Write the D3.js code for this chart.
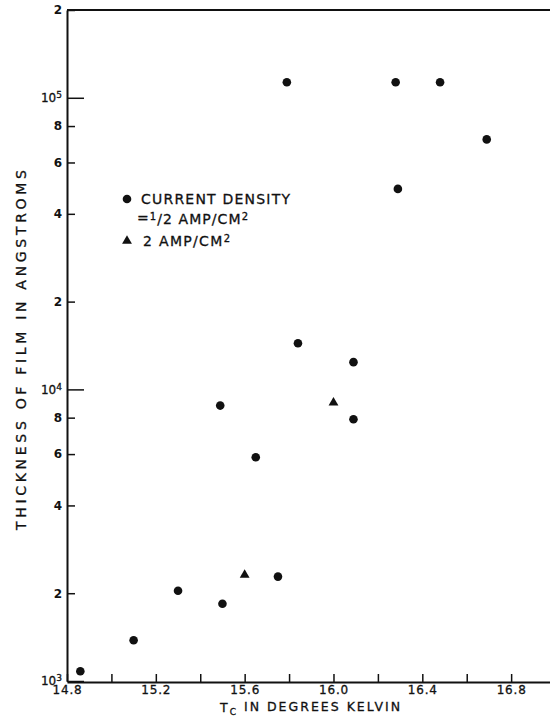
<!DOCTYPE html>
<html>
<head>
<meta charset="utf-8">
<script src="https://cdn.jsdelivr.net/npm/d3@7"></script>
<style>
  body { margin: 0; background: #fff; }
  svg text { font-family: 'DejaVu Sans', sans-serif; fill: #111; }
  .ink { stroke: #111; stroke-width: 0.3px; }
</style>
</head>
<body>
<div id="chart"></div>
<script>
// transition temperature (K) vs film thickness (angstroms)
var halfAmpTc = [14.86, 15.10, 15.30, 15.50, 15.75, 15.65, 15.49, 15.84, 16.09, 16.09, 15.79, 16.28, 16.48, 16.69, 16.29];
var halfAmpThickness = [1080, 1380, 2040, 1840, 2280, 5850, 8800, 14400, 12400, 7900, 113000, 113000, 113000, 72000, 48700];

var twoAmpTc = [15.60, 16.00];
var twoAmpThickness = [2310, 9000];

var xTicks = [14.8, 15.0, 15.2, 15.4, 15.6, 15.8, 16.0, 16.2, 16.4, 16.6, 16.8];
var xTickLabels = ['14.8', '', '15.2', '', '15.6', '', '16.0', '', '16.4', '', '16.8'];

var yTicks = [1000, 2000, 4000, 6000, 8000, 10000, 20000, 40000, 60000, 80000, 100000, 200000];
var yTickLabels = ['10|3', '2', '4', '6', '8', '10|4', '2', '4', '6', '8', '10|5', '2'];

var xDomain = [14.8, 16.975];
var yDomain = [1000, 200000];

var margin = {top: 10, right: 0, bottom: 35, left: 67};
var width = 550 - margin.left - margin.right,
    height = 717 - margin.top - margin.bottom;

var svg = d3.select('#chart').append('svg')
    .attr('width', 550)
    .attr('height', 717);

var g = svg.append('g')
    .attr('transform', `translate(${margin.left}, ${margin.top})`);

var xScale = d3.scaleLinear().domain(xDomain).range([0, width]);
var yScale = d3.scaleLog().domain(yDomain).range([height - 1, 0]);

// x axis, ticks pointing up into the plot
var xAxis = d3.axisBottom(xScale)
    .tickValues(xTicks)
    .tickSizeInner(-8)
    .tickSizeOuter(0)
    .tickPadding(4)
    .tickFormat((d, i) => xTickLabels[i]);

g.append('g')
    .attr('transform', `translate(0, ${height})`)
    .call(xAxis)
    .call(s => s.select('.domain').attr('stroke', '#111').attr('stroke-width', 2))
    .call(s => s.selectAll('.tick line').attr('stroke', '#111').attr('stroke-width', 1.5))
    .call(s => s.selectAll('.tick text')
        .attr('class', 'ink')
        .style('font-size', '12px')
        .style('letter-spacing', '0.8px')
        .attr('dy', '0.7em'));

// y axis, ticks pointing right into the plot
var yAxis = d3.axisLeft(yScale)
    .tickValues(yTicks)
    .tickSizeInner(-8)
    .tickSizeOuter(0)
    .tickPadding(5)
    .tickFormat(() => '');

var yG = g.append('g').call(yAxis);
yG.select('.domain').attr('stroke', '#111').attr('stroke-width', 2);
yG.selectAll('.tick line')
    .attr('stroke', '#111')
    .attr('stroke-width', 1.5)
    .attr('x2', (d, i) => yTickLabels[i].indexOf('|') >= 0 ? 17 : 8);

yG.selectAll('.tick text').each(function(d, i) {
    var t = d3.select(this).style('font-size', '12px').style('font-weight', 'bold');
    var parts = yTickLabels[i].split('|');
    if (parts.length > 1) {
        t.style('font-weight', 'normal').attr('class', 'ink');
        t.append('tspan').text(parts[0]);
        t.append('tspan').attr('dy', '-0.45em').style('font-size', '9px').text(parts[1]);
    } else {
        t.text(parts[0]);
    }
});

// top frame line
g.append('line')
    .attr('x1', 0).attr('x2', width)
    .attr('y1', yScale(yDomain[1])).attr('y2', yScale(yDomain[1]))
    .attr('stroke', '#111')
    .attr('stroke-width', 2);

// data
var half = halfAmpTc.map((d, i) => [d, halfAmpThickness[i]]);
var two = twoAmpTc.map((d, i) => [d, twoAmpThickness[i]]);

g.selectAll('.dot')
    .data(half)
    .enter().append('circle')
    .attr('class', 'dot')
    .attr('cx', d => xScale(d[0]))
    .attr('cy', d => yScale(d[1]))
    .attr('r', 4.3)
    .style('fill', '#111');

var tri = d3.symbol().type(d3.symbolTriangle).size(42);
g.selectAll('.tri')
    .data(two)
    .enter().append('path')
    .attr('class', 'tri')
    .attr('d', tri)
    .attr('transform', d => `translate(${xScale(d[0])}, ${yScale(d[1])})`)
    .style('fill', '#111');

// legend
var legend = svg.append('g').attr('transform', 'translate(127, 199)');
legend.append('circle').attr('r', 4.3).style('fill', '#111');
legend.append('text')
    .attr('class', 'ink')
    .attr('x', 14).attr('y', 5)
    .attr('textLength', 149)
    .attr('lengthAdjust', 'spacing')
    .style('font-size', '14px')
    .text('CURRENT DENSITY');

var l2 = legend.append('text')
    .attr('class', 'ink')
    .attr('x', 10).attr('y', 24)
    .attr('textLength', 111)
    .attr('lengthAdjust', 'spacing')
    .style('font-size', '14px');
l2.append('tspan').text('=');
l2.append('tspan').attr('dy', '-0.35em').style('font-size', '10px').text('1');
l2.append('tspan').attr('dy', '0.35em').text('/2 AMP/CM');
l2.append('tspan').attr('dy', '-0.45em').style('font-size', '10px').text('2');

legend.append('path')
    .attr('d', tri)
    .attr('transform', 'translate(0, 42)')
    .style('fill', '#111');
var l3 = legend.append('text')
    .attr('class', 'ink')
    .attr('x', 16).attr('y', 47)
    .attr('textLength', 87)
    .attr('lengthAdjust', 'spacing')
    .style('font-size', '14px');
l3.append('tspan').text('2 AMP/CM');
l3.append('tspan').attr('dy', '-0.45em').style('font-size', '10px').text('2');

// axis titles
var xt = svg.append('text')
    .attr('class', 'ink')
    .attr('x', 220).attr('y', 712)
    .attr('textLength', 180)
    .attr('lengthAdjust', 'spacing')
    .style('font-size', '12.5px');
xt.append('tspan').text('T');
xt.append('tspan').attr('dy', '0.3em').style('font-size', '9px').text('C');
xt.append('tspan').attr('dy', '-0.3em').text(' IN  DEGREES  KELVIN');

svg.append('text')
    .attr('class', 'ink')
    .attr('transform', 'translate(26, 530) rotate(-90)')
    .attr('textLength', 360)
    .attr('lengthAdjust', 'spacing')
    .style('font-size', '14px')
    .text('THICKNESS  OF  FILM  IN  ANGSTROMS');
</script>
</body>
</html>
